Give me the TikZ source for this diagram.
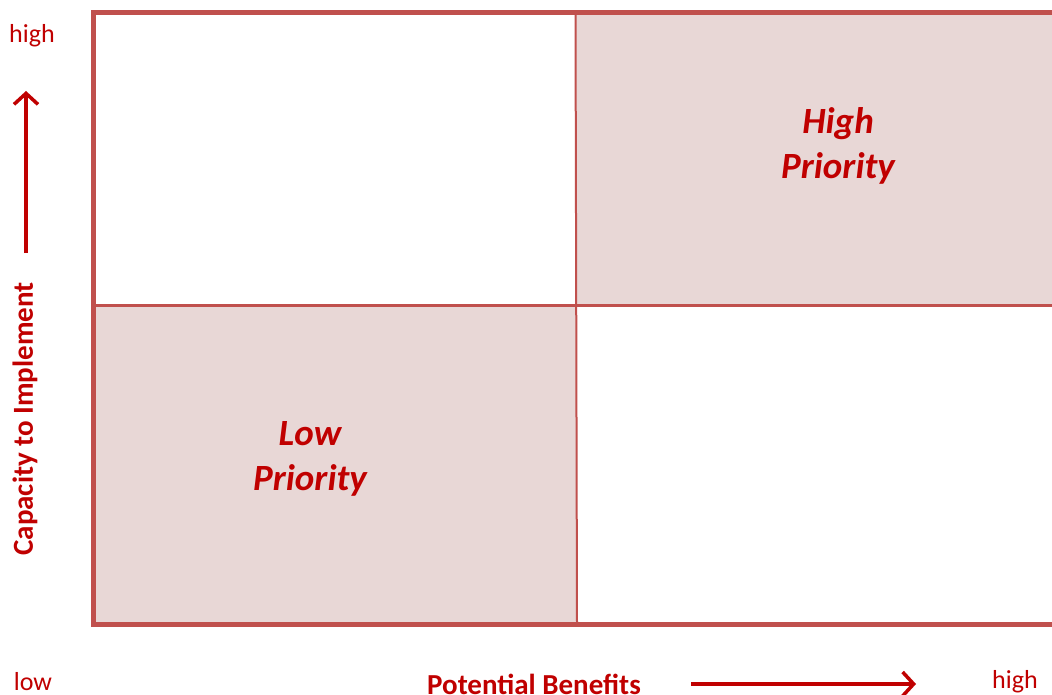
\documentclass[tikz,border=0pt]{standalone}
\usepackage{fontspec}
\setmainfont{Carlito}
\usetikzlibrary{arrows.meta}
\definecolor{txtred}{HTML}{C00000}
\definecolor{boxred}{HTML}{C0504D}
\definecolor{boxfill}{HTML}{E8D7D6}
\tikzset{
  axislbl/.style={text=txtred, font=\fontsize{26}{30}\selectfont, inner sep=0pt},
  axistitle/.style={text=txtred, font=\fontsize{29}{34}\selectfont\bfseries, inner sep=0pt},
  prio/.style={text=txtred, font=\fontsize{37}{45}\selectfont\bfseries\itshape, align=center, inner sep=0pt},
  axisarrow/.style={draw=txtred, line width=3.5pt, -{Straight Barb[length=11pt,width=24pt,line width=3.5pt]}},
  gridline/.style={draw=boxred, line width=2.5pt},
}
\begin{document}
\begin{tikzpicture}[x=1pt,y=-1pt]
\useasboundingbox (0,0) rectangle (1052,695);
\clip (0,0) rectangle (1052,695);
% quadrant fills
\fill[boxfill] (576,12) rectangle (1060,305);
\fill[boxfill] (93,305) rectangle (576,624);
% inner lines
\draw[gridline] (93,305.5) -- (1060,305.5);
\draw[draw=boxred, line width=2pt] (575.5,12) -- (577,624);
% outer frame
\draw[draw=boxred, line width=5pt] (1070,12.5) -- (93.5,12.5) -- (93.5,624.5) -- (1070,624.5);
% labels
\node[axislbl] (yhigh) at (32,36) {high};
\node[axislbl] (xlow) at (33,682) {low};
\node[axislbl] (xhigh) at (1015,682) {high};
\node[axistitle] (xtitle) at (534,684) {Potential Benefits};
\node[axistitle, rotate=90] (ytitle) at (25,419) {Capacity to Implement};
\node[prio] (hp) at (838,146) {High\\Priority};
\node[prio] (lp) at (310,459) {Low\\Priority};
% arrows
\coordinate (ya) at (26,253);
\coordinate (yb) at (26,91);
\coordinate (xa) at (691,684);
\coordinate (xb) at (916,684);
\draw[axisarrow] (ya) -- (yb);
\draw[axisarrow] (xa) -- (xb);
\end{tikzpicture}
\end{document}
